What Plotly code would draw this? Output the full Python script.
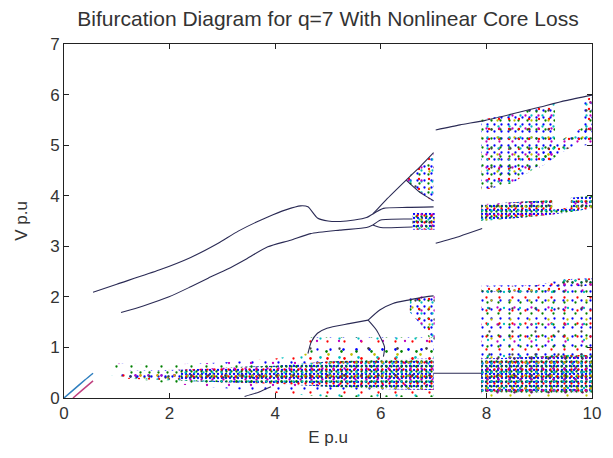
import plotly.graph_objects as go

# ---------------- data (E p.u, V p.u) ----------------
# continuous (period-1 / period-2) branches
upper_E = [0.55, 1.0, 1.8, 2.4, 2.92, 3.3, 3.86, 4.2, 4.48, 4.62, 4.8, 5.0, 5.23, 5.5, 5.73, 5.85]
upper_V = [2.09, 2.25, 2.53, 2.78, 3.06, 3.30, 3.58, 3.72, 3.80, 3.78, 3.56, 3.50, 3.49, 3.52, 3.57, 3.64]
lower_E = [1.08, 1.5, 1.99, 2.4, 2.73, 3.1, 3.42, 3.86, 4.29, 4.67, 5.22, 5.73, 5.85]
lower_V = [1.69, 1.82, 2.00, 2.20, 2.37, 2.55, 2.73, 2.99, 3.12, 3.25, 3.32, 3.37, 3.42]
brA_E = [5.85, 6.1, 6.48]
brA_V = [3.64, 3.92, 4.31]
wedgeTop_E = [6.48, 6.75, 7.0]
wedgeTop_V = [4.31, 4.58, 4.85]
wedgeBot_E = [6.48, 6.75, 7.0]
wedgeBot_V = [4.31, 4.06, 3.90]
brB_E = [5.85, 6.05, 6.5, 7.0]
brB_V = [3.64, 3.75, 3.77, 3.78]
brC_E = [5.85, 6.0, 6.6]
brC_V = [3.42, 3.52, 3.54]
brD_E = [5.85, 6.0, 6.6]
brD_V = [3.42, 3.37, 3.38]
mid7_E = [7.04, 7.5, 7.92]
mid7_V = [3.06, 3.20, 3.35]
top7_E = [7.04, 7.5, 7.98, 8.5, 9.0, 9.5, 10.0]
top7_V = [5.30, 5.40, 5.49, 5.62, 5.75, 5.88, 5.99]
gap_E = [7.0, 7.9]
gap_V = [0.49, 0.49]
loop_E = [4.62, 4.68, 4.8, 4.98, 5.4, 5.76]
loop_V = [0.88, 1.10, 1.28, 1.38, 1.47, 1.54]
arc_E = [5.76, 5.98, 6.23, 6.54, 6.85, 7.0]
arc_V = [1.54, 1.74, 1.87, 1.94, 2.00, 2.02]
drop_E = [5.76, 5.92, 6.07, 6.05]
drop_V = [1.54, 1.34, 1.01, 0.82]
orgA_E = [0.0, 0.2, 0.4, 0.55]
orgA_V = [0.0, 0.18, 0.36, 0.49]
orgB_E = [0.17, 0.35, 0.55]
orgB_V = [0.0, 0.16, 0.34]
foot_E = [3.42, 3.7, 3.92]
foot_V = [0.03, 0.12, 0.22]

# chaotic bands: E, lower V, upper V
coreL_E = [2.2, 3.0, 4.0, 5.0, 6.0, 7.0]
coreL_lo = [0.34, 0.31, 0.28, 0.22, 0.18, 0.16]
coreL_hi = [0.56, 0.60, 0.64, 0.72, 0.76, 0.78]
thinL_E = [1.2, 1.7, 2.2]
thinL_lo = [0.38, 0.36, 0.34]
thinL_hi = [0.54, 0.55, 0.56]
haloL_E = [0.9, 2.0, 3.0, 4.0, 5.0, 6.0, 7.0]
haloL_lo = [0.45, 0.28, 0.20, 0.10, 0.02, 0.02, 0.02]
haloL_hi = [0.68, 0.66, 0.70, 0.78, 0.95, 1.05, 1.10]
coreR_E = [7.9, 8.5, 9.0, 9.5, 10.0]
coreR_lo = [0.12, 0.10, 0.10, 0.10, 0.10]
coreR_hi = [0.78, 0.80, 0.82, 0.85, 0.85]
midR_E = [7.9, 8.9, 9.4, 10.0]
midR_lo = [0.02, 0.02, 0.02, 0.02]
midR_hi = [2.20, 2.22, 2.33, 2.35]
midEdge_E = [7.9, 9.4, 9.45, 10.0]
midEdge_lo = [2.10, 2.12, 2.20, 2.22]
midEdge_hi = [2.22, 2.24, 2.35, 2.37]
band4a_E = [7.9, 8.5, 9.0, 9.25]
band4a_lo = [3.50, 3.55, 3.60, 3.63]
band4a_hi = [3.83, 3.87, 3.90, 3.92]
band4b_E = [9.25, 9.6]
band4b_lo = [3.63, 3.68]
band4b_hi = [3.72, 3.77]
band4c_E = [9.6, 10.0]
band4c_lo = [3.68, 3.75]
band4c_hi = [3.96, 4.00]
cloud_E = [7.9, 8.5, 9.0, 9.3]
cloud_lo = [4.10, 4.25, 4.60, 4.80]
cloud_hi = [5.50, 5.62, 5.75, 5.82]
edgeU_E = [9.0, 9.5, 9.9]
edgeU_lo = [4.55, 4.90, 5.15]
edgeU_hi = [4.80, 5.15, 5.40]
clusterR_E = [9.85, 10.0]
clusterR_lo = [5.00, 5.00]
clusterR_hi = [5.90, 5.95]
wedge_E = [6.48, 6.75, 7.0]
wedge_lo = [4.28, 4.05, 3.88]
wedge_hi = [4.34, 4.58, 4.85]
box_E = [6.6, 7.02]
box_lo = [3.33, 3.33]
box_hi = [3.66, 3.66]
blob_E = [6.55, 6.8, 7.02]
blob_lo = [1.70, 1.40, 1.00]
blob_hi = [1.97, 2.02, 2.05]
loopIn_E = [4.6, 7.0]
loopIn_lo = [0.75, 0.75]
loopIn_hi = [1.2, 1.2]

x_ticks = [0, 2, 4, 6, 8, 10]
y_ticks = [0, 1, 2, 3, 4, 5, 6, 7]

# ---------------- styling ----------------
COLORS = ["#0000ff", "#008000", "#ff0000", "#00bfbf", "#bf00bf", "#bfbf00", "#404040"]
DENSITY = {
    "dense":  [4, 5, 7, 9, 11, 13, 17],
    "medium": [7, 9, 10, 11, 13, 17, 19],
    "light":  [9, 11, 13, 16, 17, 19, 23],
    "sparse": [13, 15, 17, 19, 22, 23, 29],
}
DOT_AREA = 4.2
LINE_COLOR = "#2b2b55"
FONT = "Liberation Sans, Arial"

fig = go.Figure()


def add_band(E, lo, hi, density):
    xs = list(E) + list(E)[::-1]
    ys = list(hi) + list(lo)[::-1]
    for c, s in zip(COLORS, DENSITY[density]):
        sol = min(0.9, DOT_AREA / (s * s))
        fig.add_trace(go.Scatter(
            x=xs, y=ys, mode="none", fill="toself",
            fillcolor="rgba(0,0,0,0)",
            fillpattern=dict(shape=".", fgcolor=c, size=s, solidity=sol, fillmode="replace"),
            hoverinfo="skip", showlegend=False))


def add_line(E, V, color=LINE_COLOR, width=1.1):
    fig.add_trace(go.Scatter(x=E, y=V, mode="lines",
                             line=dict(color=color, width=width, shape="spline", smoothing=0.6),
                             hoverinfo="skip", showlegend=False))


add_band(haloL_E, haloL_lo, haloL_hi, "sparse")
add_band(thinL_E, thinL_lo, thinL_hi, "medium")
add_band(coreL_E, coreL_lo, coreL_hi, "dense")
add_band(midR_E, midR_lo, midR_hi, "light")
add_band(coreR_E, coreR_lo, coreR_hi, "dense")
add_band(midEdge_E, midEdge_lo, midEdge_hi, "medium")
add_band(band4a_E, band4a_lo, band4a_hi, "dense")
add_band(band4b_E, band4b_lo, band4b_hi, "dense")
add_band(band4c_E, band4c_lo, band4c_hi, "dense")
add_band(cloud_E, cloud_lo, cloud_hi, "medium")
add_band(edgeU_E, edgeU_lo, edgeU_hi, "medium")
add_band(clusterR_E, clusterR_lo, clusterR_hi, "medium")
add_band(wedge_E, wedge_lo, wedge_hi, "medium")
add_band(box_E, box_lo, box_hi, "dense")
add_band(blob_E, blob_lo, blob_hi, "medium")
add_band(loopIn_E, loopIn_lo, loopIn_hi, "sparse")

for E, V in [(upper_E, upper_V), (lower_E, lower_V), (brA_E, brA_V), (wedgeTop_E, wedgeTop_V),
             (wedgeBot_E, wedgeBot_V), (brB_E, brB_V), (brC_E, brC_V), (brD_E, brD_V),
             (mid7_E, mid7_V), (top7_E, top7_V), (gap_E, gap_V), (loop_E, loop_V),
             (arc_E, arc_V), (drop_E, drop_V), (foot_E, foot_V)]:
    add_line(E, V)
add_line(orgA_E, orgA_V, color="#2f7fbf", width=1.5)
add_line(orgB_E, orgB_V, color="#c0407f", width=1.5)

axis_common = dict(
    showgrid=False, zeroline=False, showline=True, linecolor="#222", linewidth=1,
    mirror="ticks", ticks="inside", ticklen=5, tickcolor="#222",
    tickfont=dict(family=FONT, size=17, color="#333"),
)
fig.update_xaxes(range=[0, 10], tickvals=x_ticks, ticktext=[str(v) for v in x_ticks],
                 title=dict(text="E p.u", font=dict(family=FONT, size=17, color="#333"), standoff=8),
                 **axis_common)
fig.update_yaxes(range=[0, 7], tickvals=y_ticks, ticktext=[str(v) for v in y_ticks],
                 title=dict(text="V p.u", font=dict(family=FONT, size=17, color="#333"), standoff=18),
                 **axis_common)

fig.update_layout(
    width=613, height=458,
    margin=dict(l=64, r=15, t=44, b=60),
    paper_bgcolor="white", plot_bgcolor="white",
    title=dict(text="Bifurcation Diagram for q=7 With Nonlinear Core Loss",
               font=dict(family=FONT, size=21, color="#333"),
               x=0.5, xref="paper", xanchor="center", y=0.96, yanchor="middle"),
    showlegend=False,
)

fig.write_html("out.html")
